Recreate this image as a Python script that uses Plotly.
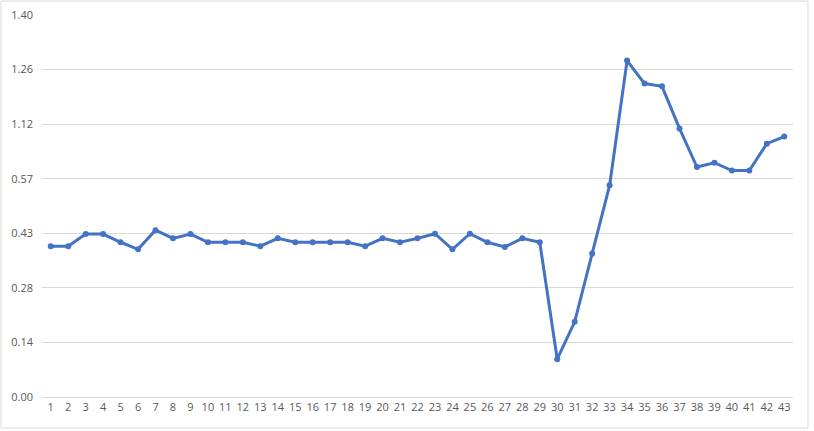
import plotly.graph_objects as go

# x categories 1..43
x_labels = [str(i) for i in range(1, 44)]

# values (in axis units, 0.14 per gridline)
y_values = [0.387, 0.387, 0.418, 0.418, 0.397, 0.379, 0.428, 0.407, 0.418, 0.397,
            0.397, 0.397, 0.387, 0.407, 0.397, 0.397, 0.397, 0.397, 0.387, 0.407,
            0.397, 0.407, 0.419, 0.379, 0.419, 0.397, 0.385, 0.407, 0.397, 0.097,
            0.193, 0.368, 0.543, 0.863, 0.804, 0.797, 0.689, 0.590, 0.601, 0.581,
            0.581, 0.650, 0.668]

tick_vals = [0, 0.14, 0.28, 0.42, 0.56, 0.70, 0.84, 0.98]
tick_text = ["0.00", "0.14", "0.28", "0.43", "0.57", "1.12", "1.26", "1.40"]

fig = go.Figure()
fig.add_trace(go.Scatter(x=x_labels, y=y_values, mode="lines+markers",
                         line=dict(color="#4472C4", width=3),
                         marker=dict(color="#4472C4", size=6), cliponaxis=False))

fig.update_layout(width=814, height=431, plot_bgcolor="white", paper_bgcolor="white",
                  margin=dict(l=42, r=21, t=15, b=34, autoexpand=False), showlegend=False,
                  font=dict(family="Open Sans", size=11, color="#595959"))
fig.update_xaxes(type="category", range=[-0.5, 42.5], showgrid=False,
                 showline=True, linecolor="#D9D9D9", linewidth=1,
                 zeroline=False, ticks="", automargin=False,
                 tickfont=dict(size=11, color="#595959"))
fig.update_yaxes(range=[0, 0.98], tickvals=tick_vals, ticktext=tick_text,
                 showgrid=True, gridcolor="#D9D9D9", gridwidth=1, zeroline=False,
                 showline=False, ticklabelstandoff=8, automargin=False,
                 tickfont=dict(size=11, color="#595959"))

# outer chart border
fig.add_shape(type="rect", xref="paper", yref="paper", x0=-0.0546, x1=1.02,
              y0=-0.0812, y1=1.0366, line=dict(color="#D9D9D9", width=1), layer="below")

# page has a default 8px body margin; drop it so the chart sits at 0,0
fig.write_html("out.html", config={"displayModeBar": False},
               post_script="document.body.style.margin='0';")
